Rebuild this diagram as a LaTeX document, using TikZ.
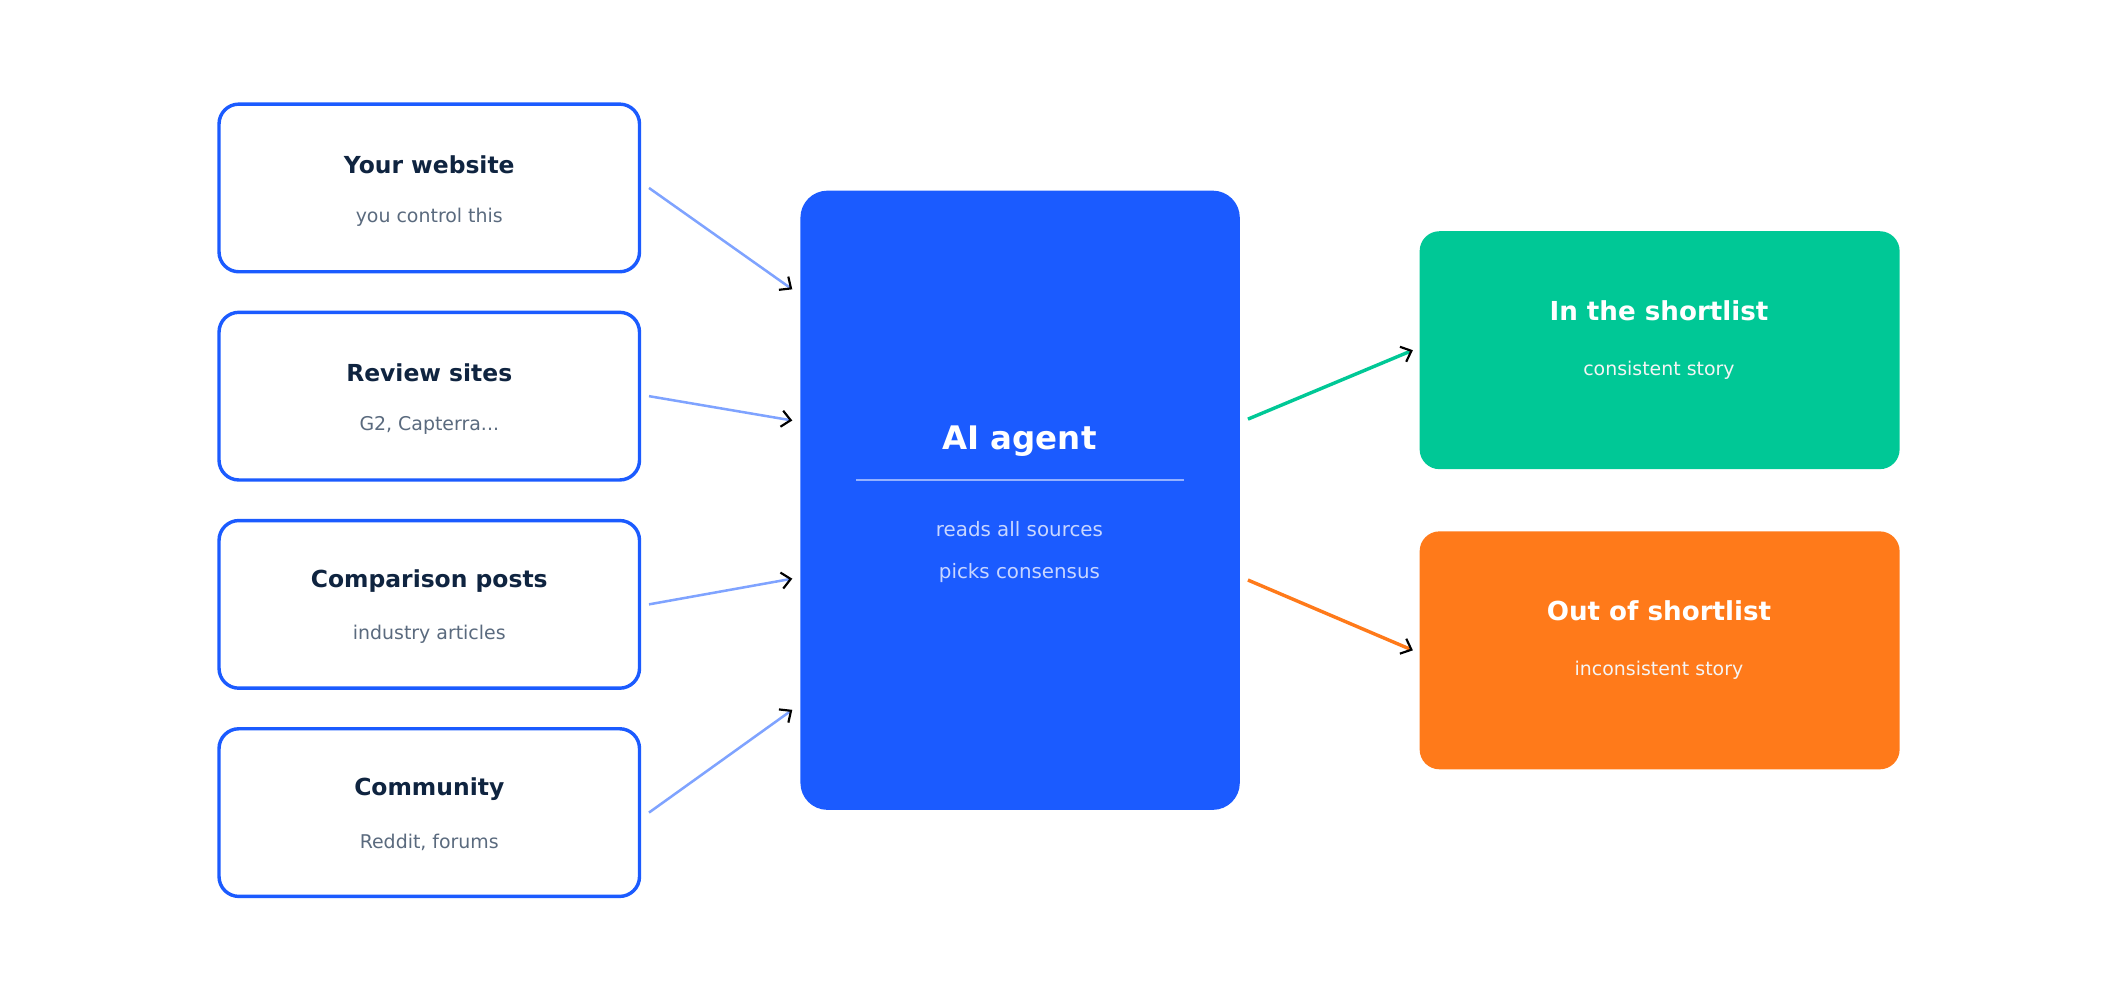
\documentclass[tikz,border=0pt]{standalone}
\usepackage{fontspec}
\setmainfont{DejaVu Sans}
\usetikzlibrary{arrows.meta}
\definecolor{bb}{HTML}{1B5BFF}
\definecolor{navy}{HTML}{0F2440}
\definecolor{gr}{HTML}{5A6A7E}
\definecolor{lb}{HTML}{7FA3FF}
\definecolor{gn}{HTML}{00C896}
\definecolor{og}{HTML}{FF7A1A}
\definecolor{pale}{HTML}{C8D6FF}
\begin{document}
\begin{tikzpicture}[x=0.75pt,y=-0.75pt,
 src/.style={draw=bb,line width=1.9pt,rounded corners=11pt,fill=white},
 ttl/.style={font=\fontsize{13}{15}\selectfont\bfseries,text=navy},
 sub/.style={font=\fontsize{10.5}{12}\selectfont,text=gr},
 con/.style={line width=1.4pt,-{Straight Barb[color=black,length=5pt,width=9pt,line width=1.2pt]}},
 wt/.style={font=\fontsize{14.5}{17}\selectfont\bfseries,text=white},
 ws/.style={font=\fontsize{10.5}{12}\selectfont,text=white!92!gray}]
\useasboundingbox (0,0) rectangle (1568,740);
\foreach \n/\y/\t/\s in {a/139/Your website/you control this, b/293/Review sites/{G2, Capterra...}, c/447/Comparison posts/industry articles, d/601/Community/{Reddit, forums}}{
 \draw[src] (162,\y-62) rectangle (473,\y+62);
 \node[ttl] (t\n) at (317.5,\y-17) {\t};
 \node[sub] (s\n) at (317.5,\y+22) {\s};
}
\fill[bb,rounded corners=15pt] (592,141) rectangle (917,599);
\node[font=\fontsize{18}{21}\selectfont\bfseries,text=white] (ai) at (754,326) {AI agent};
\draw[pale!70!bb,line width=0.6pt] (633,355) -- (876,355);
\node[font=\fontsize{11}{13}\selectfont,text=pale] (r1) at (754,391) {reads all sources};
\node[font=\fontsize{11}{13}\selectfont,text=pale] (r2) at (754,424) {picks consensus};
\fill[gn,rounded corners=11pt] (1050,171) rectangle (1405,347);
\node[wt] (g1) at (1227,230) {In the shortlist};
\node[ws] (g2) at (1227,274) {consistent story};
\fill[og,rounded corners=11pt] (1050,393) rectangle (1405,569);
\node[wt] (o1) at (1227,452) {Out of shortlist};
\node[ws] (o2) at (1227,496) {inconsistent story};
\coordinate (a1) at (480,139); \coordinate (a2) at (586,214);
\coordinate (b1) at (480,293); \coordinate (b2) at (586,311);
\coordinate (c1) at (480,447); \coordinate (c2) at (586,428);
\coordinate (d1) at (480,601); \coordinate (d2) at (586,525);
\coordinate (e1) at (923,310); \coordinate (e2) at (1045,259);
\coordinate (f1) at (923,429); \coordinate (f2) at (1045,481);
\foreach \p in {a,b,c,d}{\draw[con,lb] (\p1) -- (\p2);}
\draw[con,gn,line width=1.9pt] (e1) -- (e2);
\draw[con,og,line width=1.9pt] (f1) -- (f2);
\end{tikzpicture}
\end{document}
